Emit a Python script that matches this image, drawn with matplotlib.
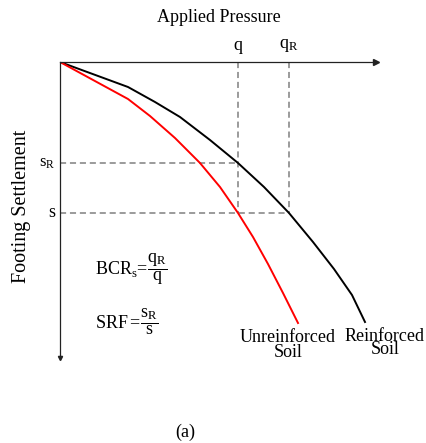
import matplotlib.pyplot as plt

plt.rcParams['font.family'] = ['Liberation Serif', 'DejaVu Serif']
plt.rcParams['mathtext.fontset'] = 'custom'
plt.rcParams['mathtext.rm'] = 'Liberation Serif'
plt.rcParams['mathtext.it'] = 'Liberation Serif:italic'

# curves (pressure, settlement)
reinf_p = [0, 68, 95, 120, 150, 178, 204, 229, 253, 274, 292, 305]
reinf_s = [0, 25, 40, 55, 78, 101, 125, 151, 180, 207, 233, 260]
unreinf_p = [0, 68, 90, 115, 140, 160, 178, 193, 208, 223, 238]
unreinf_s = [0, 37, 54, 76, 101, 125, 151, 175, 202, 231, 261]

q, qR = 178, 229
sR, s = 101, 151

fig = plt.figure(figsize=(4.26, 4.43), dpi=100)
ax = fig.add_axes([60/426, 1-358/443, 316/426, 296/443])
ax.set_xlim(0, 316)
ax.set_ylim(296, 0)

for side in ['right', 'bottom']:
    ax.spines[side].set_visible(False)
for side in ['left', 'top']:
    ax.spines[side].set_linewidth(0.9)
    ax.spines[side].set_color('#222222')
ax.set_xticks([])
ax.set_yticks([])
ax.patch.set_alpha(0)

# arrow heads
ax.plot(1, 1, '>', color='#222222', ms=5, transform=ax.transAxes, clip_on=False)
ax.plot(0, 0, 'v', color='#222222', ms=3, transform=ax.transAxes, clip_on=False)

# guide lines
dash = dict(color='#808080', lw=1.1, ls=(0, (4, 2.5)))
ax.plot([0, q], [sR, sR], **dash)
ax.plot([0, qR], [s, s], **dash)
ax.plot([q, q], [0, s], **dash)
ax.plot([qR, qR], [0, s], **dash)

ax.plot(reinf_p, reinf_s, color='black', lw=1.4)
ax.plot(unreinf_p, unreinf_s, color='#ff0000', lw=1.4)

fs = 13
ax.text(q, -8, 'q', ha='center', va='bottom', fontsize=fs)
ax.text(qR, -8, r'$\mathrm{q_R}$', ha='center', va='bottom', fontsize=fs)
ax.text(-5, sR, r'$\mathrm{s_R}$', ha='right', va='center', fontsize=fs-1)
ax.text(-5, s, 's', ha='right', va='center', fontsize=fs)

ax.text(35, 207, r'$\mathrm{BCR_s\!=\!\dfrac{q_R}{q}}$', ha='left', va='center',
        fontsize=fs)
ax.text(35, 260, r'$\mathrm{SRF=\!\dfrac{s_R}{s}}$', ha='left', va='center',
        fontsize=fs)

ax.text(228, 283, 'Unreinforced\nSoil', ha='center', va='center', fontsize=fs,
        linespacing=0.9, clip_on=False)
ax.text(325, 281, 'Reinforced\nSoil', ha='center', va='center', fontsize=fs,
        linespacing=0.75, clip_on=False)

fig.text(219/426, 1-18/443, 'Applied Pressure', ha='center', va='center', fontsize=fs)
fig.text(22/426, 1-206/443, 'Footing Settlement', ha='center', va='center',
         rotation=90, fontsize=14.5)
fig.text(185/426, 1-432/443, '(a)', ha='center', va='center', fontsize=fs)

fig.savefig('out.png', dpi=100)
